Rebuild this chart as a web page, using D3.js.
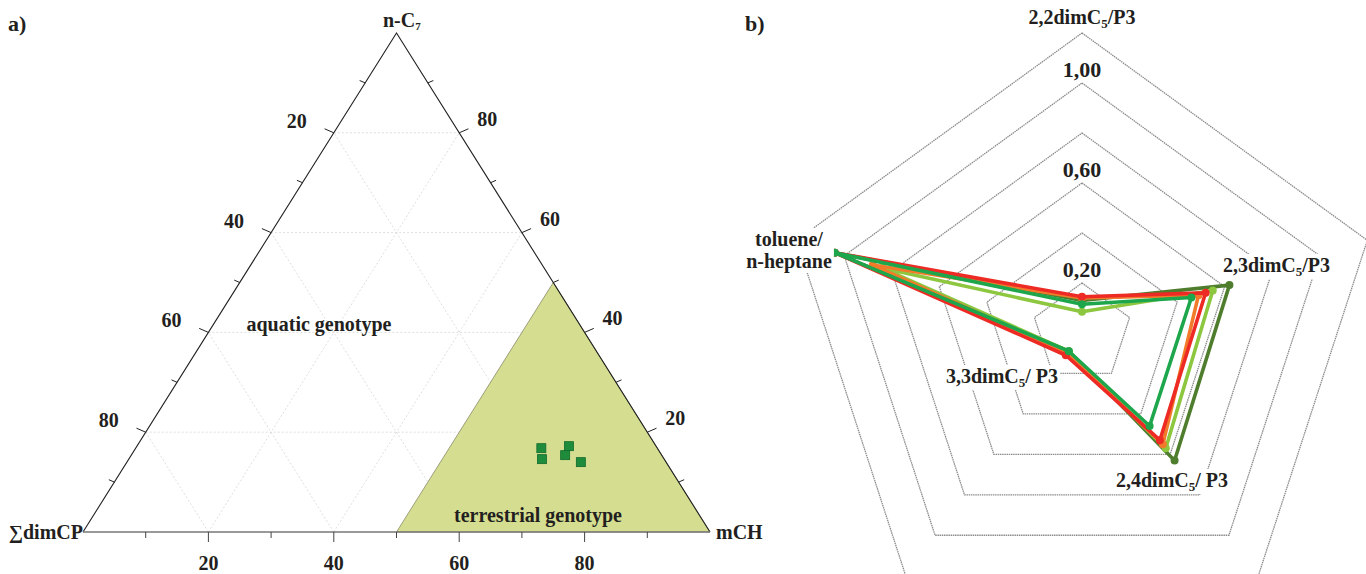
<!DOCTYPE html>
<html>
<head>
<meta charset="utf-8">
<script src="https://cdn.jsdelivr.net/npm/d3@7"></script>
<style>
  body { margin: 0; background: #fff; }
  text { font-family: "Liberation Serif", "Times New Roman", serif; font-weight: bold; fill: #231f20; }
</style>
</head>
<body>
<div id="chart"></div>
<script>
// a) ternary data: [n-C7, ∑dimCP, mCH] in %
const ternPoints = [
  [16.8, 18.5, 64.7],
  [14.6, 19.5, 65.9],
  [17.2, 13.9, 68.9],
  [15.4, 15.4, 69.2],
  [14.0, 13.6, 72.4]
];
const ternTicks = [20, 40, 60, 80];
const ternMinor = [10, 30, 50, 70, 90];

// b) radar data
const radarAxes = ["2,2dimC_5/P3", "2,3dimC_5/P3", "2,4dimC_5/ P3", "3,3dimC_5/ P3", "toluene/"];
const radarLevels = [0.2, 0.4, 0.6, 0.8, 1.0, 1.2];
const radarLevelLabels = [0.2, 0.6, 1.0];
const seriesDarkGreen  = [0.13, 0.62, 0.63, 0.09, 1.04];
const seriesLightGreen = [0.085, 0.55, 0.57, 0.09, 0.84];
const seriesOrange     = [0.14, 0.49, 0.55, 0.10, 0.88];
const seriesRed        = [0.145, 0.52, 0.53, 0.11, 1.04];
const seriesGreen      = [0.115, 0.46, 0.46, 0.09, 1.04];
const seriesColors = ["#4f7d2e", "#8dc63f", "#f27b2b", "#ee2a24", "#1ea64c"];

const W = 1366, H = 574;
const svg = d3.select("#chart").append("svg")
  .attr("width", W).attr("height", H);

// helper: text with subscript "_x"
function subText(sel, str, subSize, subDy) {
  const parts = str.split("_");
  sel.append("tspan").text(parts[0]);
  for (let i = 1; i < parts.length; i++) {
    sel.append("tspan").attr("dy", subDy).style("font-size", subSize + "px").text(parts[i][0]);
    sel.append("tspan").attr("dy", -subDy).text(parts[i].slice(1));
  }
  return sel;
}

// ---------------- a) ternary ----------------
const tx = d3.scaleLinear().domain([0, 100]).range([83, 710]);
const ty = d3.scaleLinear().domain([0, 100]).range([532, 33]);
// c = n-C7 (top), l = ∑dimCP (left), r = mCH (right)
const tern = (c, l, r) => [tx(r + c / 2), ty(c)];

const gA = svg.append("g");

svg.append("text").attr("x", 8).attr("y", 31).style("font-size", "22px").text("a)");

// grid
const gridLines = [];
ternTicks.forEach(v => {
  gridLines.push([tern(v, 100 - v, 0), tern(v, 0, 100 - v)]);   // const n-C7
  gridLines.push([tern(0, v, 100 - v), tern(100 - v, v, 0)]);   // const ∑dimCP
  gridLines.push([tern(0, 100 - v, v), tern(100 - v, 0, v)]);   // const mCH
});
gA.selectAll("line.grid").data(gridLines).enter().append("line")
  .attr("class", "grid")
  .attr("x1", d => d[0][0]).attr("y1", d => d[0][1])
  .attr("x2", d => d[1][0]).attr("y2", d => d[1][1])
  .attr("stroke", "#d6d6d6").attr("stroke-width", 0.8)
  .attr("stroke-dasharray", "2,2");

// terrestrial region: mCH >= 50
const region = [tern(50, 0, 50), tern(0, 50, 50), tern(0, 0, 100)];
gA.append("path")
  .attr("d", d3.line()(region) + "Z")
  .attr("fill", "#d5de90").attr("stroke", "#8a8a6a").attr("stroke-width", 0.8);

// frame
const A = tern(100, 0, 0), B = tern(0, 100, 0), C = tern(0, 0, 100);
gA.append("path").attr("d", d3.line()([B, A, C]))
  .attr("fill", "none").attr("stroke", "#222").attr("stroke-width", 1.1);
gA.append("line").attr("x1", B[0]).attr("y1", B[1]).attr("x2", C[0]).attr("y2", C[1])
  .attr("stroke", "#777").attr("stroke-width", 1.6);

// ticks
const allTicks = ternTicks.map(v => ({ v, major: true })).concat(ternMinor.map(v => ({ v, major: false })));
const nLeft = [-0.92, -0.4], nRight = [0.92, -0.4];
allTicks.forEach(t => {
  const len = t.major ? 10 : 6;
  // bottom (mCH)
  const pb = tern(0, 100 - t.v, t.v);
  gA.append("line").attr("x1", pb[0]).attr("y1", pb[1]).attr("x2", pb[0]).attr("y2", pb[1] + len)
    .attr("stroke", "#444").attr("stroke-width", 1);
  // left (∑dimCP)
  const pl = tern(100 - t.v, t.v, 0);
  gA.append("line").attr("x1", pl[0]).attr("y1", pl[1])
    .attr("x2", pl[0] + nLeft[0] * len).attr("y2", pl[1] + nLeft[1] * len)
    .attr("stroke", "#222").attr("stroke-width", 1);
  // right (n-C7)
  const pr = tern(t.v, 0, 100 - t.v);
  gA.append("line").attr("x1", pr[0]).attr("y1", pr[1])
    .attr("x2", pr[0] + nRight[0] * len).attr("y2", pr[1] + nRight[1] * len)
    .attr("stroke", "#222").attr("stroke-width", 1);
});

// tick labels
ternTicks.forEach(v => {
  const pb = tern(0, 100 - v, v);
  gA.append("text").attr("x", pb[0]).attr("y", 570).attr("text-anchor", "middle")
    .style("font-size", "20px").text(v);
  const pl = tern(100 - v, v, 0);
  gA.append("text").attr("x", pl[0] - 37).attr("y", pl[1] - 5).attr("text-anchor", "middle")
    .style("font-size", "20px").text(v);
  const pr = tern(v, 0, 100 - v);
  gA.append("text").attr("x", pr[0] + 28).attr("y", pr[1] - 7).attr("text-anchor", "middle")
    .style("font-size", "20px").text(v);
});

// vertex labels
subText(gA.append("text").attr("x", 383).attr("y", 27).style("font-size", "20px"), "n-C_7", 11, 3);
gA.append("text").attr("x", 83).attr("y", 539).attr("text-anchor", "end").style("font-size", "20px").text("∑dimCP");
gA.append("text").attr("x", 716).attr("y", 539).style("font-size", "20px").text("mCH");

gA.append("text").attr("x", 319).attr("y", 331).attr("text-anchor", "middle").style("font-size", "20px").text("aquatic genotype");
gA.append("text").attr("x", 538).attr("y", 522).attr("text-anchor", "middle").style("font-size", "20px").text("terrestrial genotype");

// points
gA.selectAll("rect.pt").data(ternPoints).enter().append("rect")
  .attr("class", "pt")
  .attr("x", d => tern(d[0], d[1], d[2])[0] - 4.5)
  .attr("y", d => tern(d[0], d[1], d[2])[1] - 4.5)
  .attr("width", 9).attr("height", 9)
  .attr("fill", "#1f8c3c").attr("stroke", "#0f6a2b").attr("stroke-width", 0.8);

// ---------------- b) radar ----------------
svg.append("text").attr("x", 745).attr("y", 31).style("font-size", "22px").text("b)");

const cx = 1082, cy = 333;
const rScale = d3.scaleLinear().domain([0, 1.2]).range([0, 300]);
const angle = i => i * 2 * Math.PI / radarAxes.length;
const gB = svg.append("g").attr("transform", `translate(${cx},${cy})`);

const radial = d3.lineRadial()
  .angle((d, i) => angle(i))
  .radius(d => rScale(d))
  .curve(d3.curveLinearClosed);

// grid pentagons
gB.selectAll("path.level").data(radarLevels).enter().append("path")
  .attr("class", "level")
  .attr("d", v => radial(radarAxes.map(() => v)))
  .attr("fill", "none").attr("stroke", "#8c8c8c").attr("stroke-width", 1.3)
  .attr("stroke-dasharray", "1.5,0.7");

// label with white background
function boxedLabel(g, x, y, anchor, lines, size) {
  const t = g.append("text").attr("x", x).attr("y", y).attr("text-anchor", anchor).style("font-size", (size || 20) + "px");
  lines.forEach((ln, k) => {
    if (k === 0) subText(t, ln, 13, 4);
    else t.append("tspan").attr("x", x).attr("dy", 22).text(ln);
  });
  const bb = t.node().getBBox();
  g.insert("rect", () => t.node())
    .attr("x", bb.x - 2).attr("y", bb.y).attr("width", bb.width + 4).attr("height", bb.height)
    .attr("fill", "#fff");
  return t;
}

// level labels
radarLevelLabels.forEach(v => {
  boxedLabel(gB, 0, -rScale(v) - 6, "middle", [d3.format(".2f")(v).replace(".", ",")], 22);
});

// series
const allSeries = [seriesDarkGreen, seriesLightGreen, seriesOrange, seriesRed, seriesGreen];
allSeries.forEach((s, k) => {
  gB.append("path").attr("d", radial(s))
    .attr("fill", "none").attr("stroke", seriesColors[k]).attr("stroke-width", 3.6)
    .attr("stroke-linejoin", "round");
  gB.selectAll("circle.s" + k).data(s).enter().append("circle")
    .attr("class", "s" + k)
    .attr("cx", (d, i) => rScale(d) * Math.sin(angle(i)))
    .attr("cy", (d, i) => -rScale(d) * Math.cos(angle(i)))
    .attr("r", 4).attr("fill", seriesColors[k]);
});

// axis labels
const gL = svg.append("g");
boxedLabel(gL, 1082, 24, "middle", [radarAxes[0]]);
boxedLabel(gL, 1223, 272, "start", [radarAxes[1]]);
boxedLabel(gL, 1116, 487, "start", [radarAxes[2]]);
boxedLabel(gL, 946, 383, "start", [radarAxes[3]]);
boxedLabel(gL, 789, 246, "middle", [radarAxes[4], "n-heptane"]);
</script>
</body>
</html>
